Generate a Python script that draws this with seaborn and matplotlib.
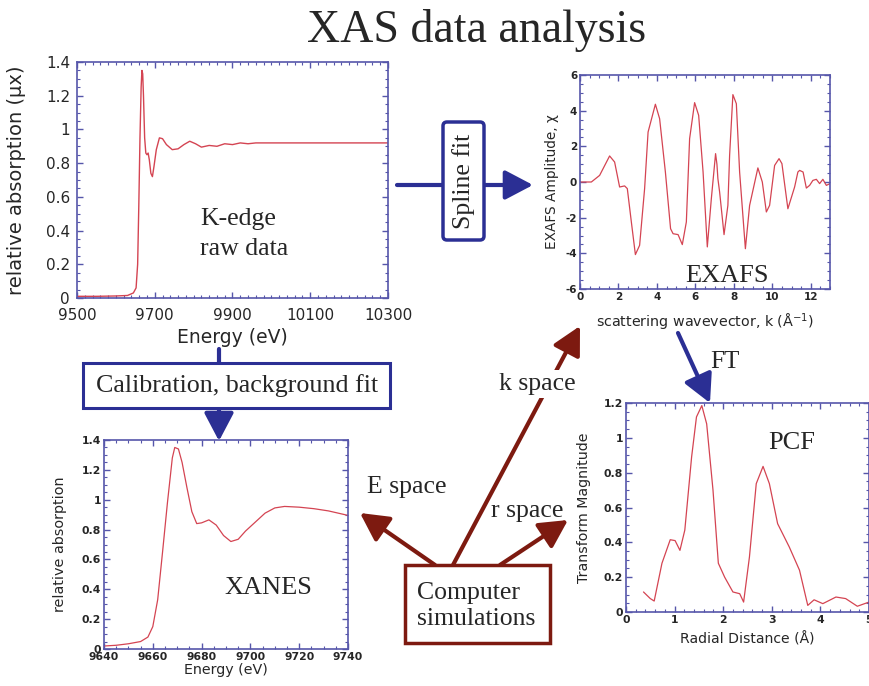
import numpy as np
import pandas as pd
import seaborn as sns
import matplotlib
matplotlib.use("Agg")
import matplotlib.pyplot as plt
from matplotlib.patches import Rectangle, FancyBboxPatch
from matplotlib.ticker import MultipleLocator, FuncFormatter

# ---------------- data ----------------
raw_energy = [9500, 9550, 9600, 9630, 9645, 9652, 9656, 9659, 9662, 9665, 9667, 9669,
              9671, 9674, 9677, 9680, 9683, 9686, 9690, 9694, 9698, 9704, 9712, 9720,
              9730, 9745, 9760, 9775, 9790, 9805, 9820, 9840, 9860, 9880, 9900, 9920,
              9940, 9960, 10000, 10100, 10200, 10300]
raw_mu = [0.01, 0.01, 0.012, 0.015, 0.03, 0.06, 0.2, 0.55, 0.95, 1.25, 1.35, 1.33,
          1.2, 0.95, 0.86, 0.85, 0.86, 0.82, 0.74, 0.72, 0.78, 0.88, 0.95, 0.945,
          0.91, 0.88, 0.885, 0.91, 0.93, 0.915, 0.895, 0.905, 0.90, 0.915, 0.91, 0.92,
          0.915, 0.92, 0.92, 0.92, 0.92, 0.92]
raw_xticks = [9500, 9700, 9900, 10100, 10300]
raw_yticks = [0, 0.2, 0.4, 0.6, 0.8, 1, 1.2, 1.4]

exafs_k = [0, 0.59, 1.02, 1.54, 1.80, 2.06, 2.32, 2.46, 2.67, 2.88, 3.1, 3.36, 3.54,
           3.92, 4.14, 4.44, 4.71, 4.84, 5.1, 5.32, 5.53, 5.70, 5.96, 6.17, 6.40, 6.62,
           6.83, 7.05, 7.12, 7.17, 7.26, 7.49, 7.69, 7.78, 7.95, 8.13, 8.3, 8.6, 8.82,
           9.25, 9.48, 9.69, 9.86, 10.12, 10.35, 10.5, 10.81, 11.16, 11.33, 11.42,
           11.6, 11.77, 11.94, 12.11, 12.29, 12.46, 12.63, 12.81, 13.0]
exafs_chi = [0, 0, 0.37, 1.46, 1.12, -0.28, -0.22, -0.37, -2.24, -4.07, -3.55, -0.37,
             2.8, 4.36, 3.55, 0.56, -2.62, -2.9, -2.95, -3.51, -2.24, 2.43, 4.45, 3.74,
             0.56, -3.64, -0.93, 1.59, 1.0, 0.19, -0.56, -2.95, -1.31, 1.5, 4.9, 4.39,
             0.56, -3.74, -1.31, 0.79, 0, -1.68, -1.31, 0.93, 1.31, 1.03, -1.5, -0.28,
             0.56, 0.65, 0.56, -0.34, -0.19, 0.09, 0.15, -0.09, 0.15, -0.19, -0.09]
exafs_xticks = [0, 2, 4, 6, 8, 10, 12]
exafs_yticks = [-6, -4, -2, 0, 2, 4, 6]

xanes_energy = [9640, 9645, 9650, 9655, 9658, 9660, 9662, 9664, 9666, 9668, 9669,
                9670.5, 9672, 9674, 9676, 9678, 9680, 9683, 9686, 9689, 9692, 9695,
                9698, 9702, 9706, 9710, 9714, 9720, 9726, 9732, 9740]
xanes_mu = [0.02, 0.025, 0.035, 0.05, 0.08, 0.15, 0.33, 0.65, 0.98, 1.28, 1.35,
            1.34, 1.25, 1.08, 0.92, 0.84, 0.845, 0.865, 0.83, 0.76, 0.72, 0.735,
            0.79, 0.85, 0.91, 0.945, 0.955, 0.95, 0.94, 0.925, 0.895]
xanes_xticks = [9640, 9660, 9680, 9700, 9720, 9740]
xanes_yticks = [0, 0.2, 0.4, 0.6, 0.8, 1, 1.2, 1.4]

pcf_r = [0.36, 0.5, 0.58, 0.74, 0.91, 1.01, 1.11, 1.21, 1.35, 1.45, 1.56, 1.66, 1.79,
         1.9, 2.03, 2.2, 2.34, 2.42, 2.54, 2.68, 2.82, 2.95, 3.12, 3.36, 3.57, 3.74,
         3.87, 4.05, 4.32, 4.52, 4.76, 5.0]
pcf_mag = [0.115, 0.077, 0.063, 0.28, 0.415, 0.41, 0.354, 0.47, 0.89, 1.12, 1.185,
           1.08, 0.70, 0.28, 0.2, 0.115, 0.105, 0.057, 0.316, 0.737, 0.836, 0.737,
           0.507, 0.373, 0.24, 0.038, 0.07, 0.048, 0.086, 0.077, 0.033, 0.057]
pcf_xticks = [0, 1, 2, 3, 4, 5]
pcf_yticks = [0, 0.2, 0.4, 0.6, 0.8, 1, 1.2]

# ---------------- style ----------------
sns.set_theme(style="white")
plt.rcParams['font.family'] = ['DejaVu Sans']
SERIF = ['Liberation Serif', 'DejaVu Serif']
SPINE = "#5656aa"
CURVE = "#d44452"
BLUE = "#2b2f94"
DRED = "#7d1a10"

W, H = 870, 686
fig = plt.figure(figsize=(W / 100, H / 100), dpi=100)
fig.patch.set_facecolor("white")


def px_axes(left, top, right, bottom):
    return fig.add_axes([left / W, 1 - bottom / H, (right - left) / W, (bottom - top) / H])


def fmt(v, pos):
    return "%g" % round(v, 6)


def style_axes(ax, xt, xmin, yt, ymin, tsize, tweight="normal", xpad=2, ypad=2):
    for s in ax.spines.values():
        s.set_color(SPINE)
        s.set_linewidth(1.2)
    ax.set_xticks(xt)
    ax.set_yticks(yt)
    ax.xaxis.set_minor_locator(MultipleLocator(xmin))
    ax.yaxis.set_minor_locator(MultipleLocator(ymin))
    ax.xaxis.set_major_formatter(FuncFormatter(fmt))
    ax.yaxis.set_major_formatter(FuncFormatter(fmt))
    ax.tick_params(which="both", direction="in", top=True, right=True,
                   bottom=True, left=True, color=SPINE)
    ax.tick_params(which="major", length=4, width=1, labelsize=tsize)
    ax.tick_params(axis="x", which="major", pad=xpad)
    ax.tick_params(axis="y", which="major", pad=ypad)
    ax.tick_params(which="minor", length=2, width=0.8)
    for lab in ax.get_xticklabels() + ax.get_yticklabels():
        lab.set_fontweight(tweight)
    ax.set_facecolor("white")


# Raw data
ax1 = px_axes(77, 62, 388, 298)
sns.lineplot(x=raw_energy, y=raw_mu, ax=ax1, color=CURVE, lw=1.0, sort=False, estimator=None)
ax1.set_xlim(9500, 10300)
ax1.set_ylim(0, 1.4)
style_axes(ax1, raw_xticks, 20, raw_yticks, 0.05, 11, xpad=7, ypad=5)
ax1.set_xlabel("Energy (eV)", fontsize=13.5, labelpad=4)
ax1.set_ylabel("relative absorption (μx)", fontsize=14, labelpad=14)

# EXAFS
ax2 = px_axes(580, 75, 830, 289)
sns.lineplot(x=exafs_k, y=exafs_chi, ax=ax2, color=CURVE, lw=0.9, sort=False, estimator=None)
ax2.set_xlim(0, 13)
ax2.set_ylim(-6, 6)
style_axes(ax2, exafs_xticks, 0.5, exafs_yticks, 0.5, 7.5, "bold")
ax2.set_xlabel("scattering wavevector, k (Å$^{-1}$)", fontsize=10.3, labelpad=7)
ax2.set_ylabel("EXAFS Amplitude, χ", fontsize=9.8, labelpad=5)

# XANES
ax3 = px_axes(104, 440, 348, 649)
sns.lineplot(x=xanes_energy, y=xanes_mu, ax=ax3, color=CURVE, lw=0.9, sort=False, estimator=None)
ax3.set_xlim(9640, 9740)
ax3.set_ylim(0, 1.4)
style_axes(ax3, xanes_xticks, 5, xanes_yticks, 0.05, 7.8, "bold")
ax3.set_xlabel("Energy (eV)", fontsize=10.3, labelpad=1)
ax3.set_ylabel("relative absorption", fontsize=10.4, labelpad=11)

# PCF
ax4 = px_axes(626, 403, 869, 612)
sns.lineplot(x=pcf_r, y=pcf_mag, ax=ax4, color=CURVE, lw=0.9, sort=False, estimator=None)
ax4.set_xlim(0, 5)
ax4.set_ylim(0, 1.2)
style_axes(ax4, pcf_xticks, 0.2, pcf_yticks, 0.05, 7.8, "bold")
ax4.set_xlabel("Radial Distance (Å)", fontsize=10.1, labelpad=5)
ax4.set_ylabel("Transform Magnitude", fontsize=10.2, labelpad=9)

# ---------------- overlay for diagram ----------------
ov = fig.add_axes([0, 0, 1, 1], zorder=10)
ov.set_xlim(0, W)
ov.set_ylim(H, 0)
ov.axis("off")
ov.patch.set_alpha(0)


def arrow(p0, p1, color, lw=3, z=3):
    ov.annotate("", xy=p1, xytext=p0,
                arrowprops=dict(arrowstyle="-|>,head_length=0.95,head_width=0.5",
                                color=color, lw=lw, shrinkA=0, shrinkB=0,
                                mutation_scale=18), zorder=z)


ov.text(477, 30, "XAS data analysis", family=SERIF, fontsize=33, ha="center", va="center")

ov.text(200, 234, "K-edge\nraw data", family=SERIF, fontsize=18.5, ha="left", va="center",
        linespacing=1.45)
ov.text(727, 276, "EXAFS", family=SERIF, fontsize=19, ha="center", va="center")
ov.text(268, 588, "XANES", family=SERIF, fontsize=19, ha="center", va="center")
ov.text(792, 443, "PCF", family=SERIF, fontsize=19, ha="center", va="center")

# Spline fit
arrow((397, 185), (533, 185), BLUE)
ov.add_patch(FancyBboxPatch((443, 122), 41, 118, boxstyle="round,pad=0,rounding_size=4",
                            facecolor="white", edgecolor=BLUE, lw=2.5, zorder=4))
ov.text(463.5, 181, "Spline fit", family=SERIF, fontsize=18.5, rotation=90,
        ha="center", va="center", zorder=5)

# Calibration
ov.plot([219, 219], [349, 364], color=BLUE, lw=3, zorder=3)
arrow((219, 408), (219, 441), BLUE)
ov.add_patch(Rectangle((83, 363), 307, 45, facecolor="white", edgecolor=BLUE, lw=2.2, zorder=4))
ov.text(237, 386, "Calibration, background fit", family=SERIF, fontsize=18.7,
        ha="center", va="center", zorder=5)

# FT
arrow((678, 333), (710, 403), BLUE)
ov.text(725, 362, "FT", family=SERIF, fontsize=18, ha="center", va="center")

# Computer simulations
arrow((453, 565), (580, 326), DRED)
arrow((435, 565), (360, 513), DRED)
arrow((500, 565), (568, 520), DRED)
ov.add_patch(Rectangle((405, 565), 145, 78, facecolor="white", edgecolor=DRED, lw=2.5, zorder=4))
ov.text(417, 606, "Computer\nsimulations", family=SERIF, fontsize=18.5, ha="left",
        va="center", linespacing=1.25, zorder=5)
ov.text(537, 384, "k space", family=SERIF, fontsize=18.5, ha="center", va="center", zorder=5,
        bbox=dict(facecolor="white", edgecolor="none", pad=2))
ov.text(407, 487, "E space", family=SERIF, fontsize=18.5, ha="center", va="center", zorder=5)
ov.text(527, 511, "r space", family=SERIF, fontsize=18.5, ha="center", va="center", zorder=5)

fig.savefig("out.png", dpi=100, facecolor="white")
